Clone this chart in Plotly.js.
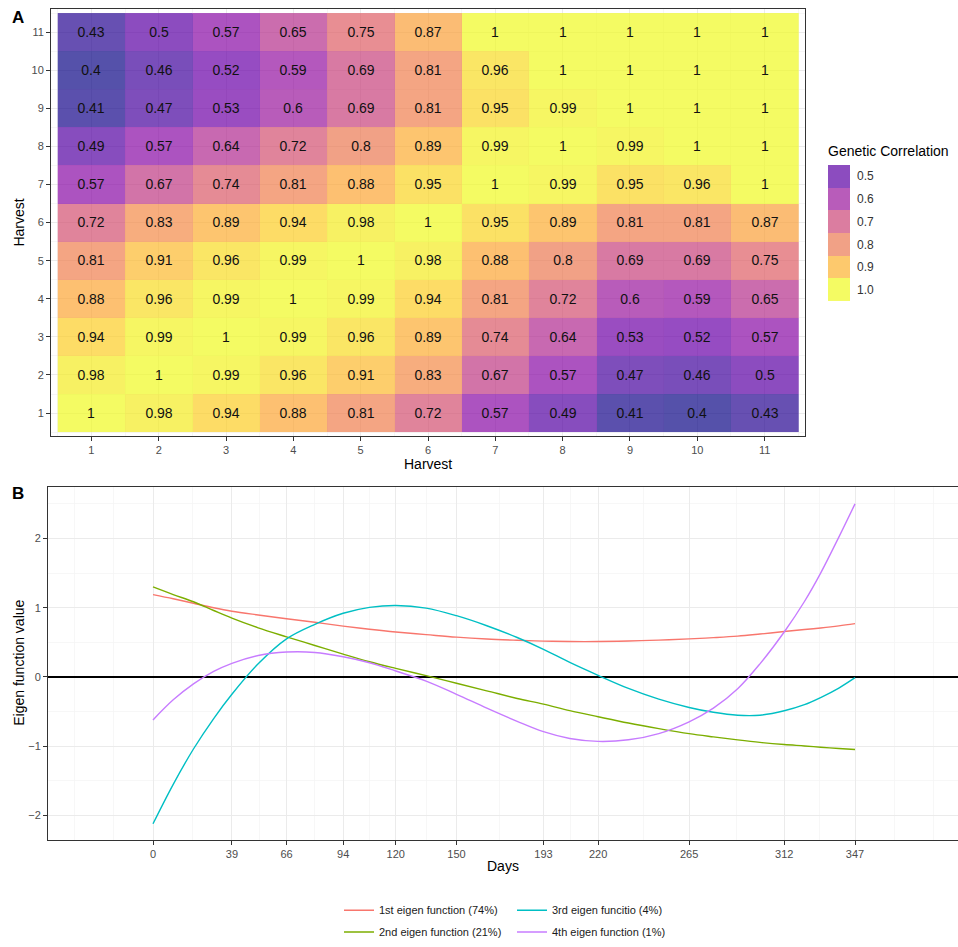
<!DOCTYPE html>
<html>
<head>
<meta charset="utf-8">
<script src="https://cdn.plot.ly/plotly-3.0.1.min.js"></script>
<style>html,body{margin:0;padding:0;background:#fff}#chart{width:958px;height:947px}</style>
</head>
<body>
<div id="chart"></div>
<script>
// ---------- Panel A data: genetic correlations between harvests ----------
const harvests = [1, 2, 3, 4, 5, 6, 7, 8, 9, 10, 11];
const corrH1  = [1, 0.98, 0.94, 0.88, 0.81, 0.72, 0.57, 0.49, 0.41, 0.4, 0.43];
const corrH2  = [0.98, 1, 0.99, 0.96, 0.91, 0.83, 0.67, 0.57, 0.47, 0.46, 0.5];
const corrH3  = [0.94, 0.99, 1, 0.99, 0.96, 0.89, 0.74, 0.64, 0.53, 0.52, 0.57];
const corrH4  = [0.88, 0.96, 0.99, 1, 0.99, 0.94, 0.81, 0.72, 0.6, 0.59, 0.65];
const corrH5  = [0.81, 0.91, 0.96, 0.99, 1, 0.98, 0.88, 0.8, 0.69, 0.69, 0.75];
const corrH6  = [0.72, 0.83, 0.89, 0.94, 0.98, 1, 0.95, 0.89, 0.81, 0.81, 0.87];
const corrH7  = [0.57, 0.67, 0.74, 0.81, 0.88, 0.95, 1, 0.99, 0.95, 0.96, 1];
const corrH8  = [0.49, 0.57, 0.64, 0.72, 0.8, 0.89, 0.99, 1, 0.99, 1, 1];
const corrH9  = [0.41, 0.47, 0.53, 0.6, 0.69, 0.81, 0.95, 0.99, 1, 1, 1];
const corrH10 = [0.4, 0.46, 0.52, 0.59, 0.69, 0.81, 0.96, 1, 1, 1, 1];
const corrH11 = [0.43, 0.5, 0.57, 0.65, 0.75, 0.87, 1, 1, 1, 1, 1];
const legendValues = [0.5, 0.6, 0.7, 0.8, 0.9, 1.0];
const legendLabels = ['0.5', '0.6', '0.7', '0.8', '0.9', '1.0'];

// ---------- Panel B data: eigen functions over days ----------
const days   = [0, 10, 20, 30, 39, 52, 66, 80, 94, 107, 120, 135, 150, 165, 180, 193, 206, 220, 235, 250, 265, 277, 289, 300, 312, 322, 330, 339, 347];
const eigen1 = [1.19, 1.13, 1.065, 1.0, 0.95, 0.895, 0.84, 0.79, 0.735, 0.69, 0.65, 0.612, 0.575, 0.548, 0.53, 0.518, 0.512, 0.512, 0.52, 0.533, 0.55, 0.568, 0.59, 0.62, 0.656, 0.685, 0.708, 0.738, 0.77];
const eigen2 = [1.30, 1.19, 1.086, 0.96, 0.85, 0.71, 0.58, 0.455, 0.33, 0.22, 0.124, 0.019, -0.091, -0.20, -0.31, -0.392, -0.486, -0.574, -0.665, -0.745, -0.818, -0.865, -0.909, -0.945, -0.976, -0.996, -1.014, -1.032, -1.048];
const eigen3 = [-2.12, -1.55, -1.04, -0.60, -0.25, 0.19, 0.55, 0.76, 0.92, 1.005, 1.033, 0.995, 0.885, 0.74, 0.57, 0.40, 0.21, 0.024, -0.165, -0.32, -0.44, -0.51, -0.553, -0.552, -0.488, -0.40, -0.297, -0.16, -0.01];
const eigen4 = [-0.62, -0.33, -0.10, 0.08, 0.197, 0.31, 0.36, 0.354, 0.292, 0.206, 0.086, -0.06, -0.25, -0.45, -0.64, -0.79, -0.888, -0.93, -0.907, -0.817, -0.647, -0.45, -0.17, 0.19, 0.65, 1.09, 1.50, 2.02, 2.50];
const seriesNames = ['1st eigen function (74%)', '2nd eigen function (21%)', '3rd eigen funcitio (4%)', '4th eigen function (1%)'];
const dayTicks = [0, 39, 66, 94, 120, 150, 193, 220, 265, 312, 347];
const dayMinor = [-39, -19.5, 19.5, 52.5, 80, 107, 135, 171.5, 206.5, 242.5, 288.5, 329.5, 366.5, 386];

// ---------- styling ----------
const W = 958, H = 947;
const px = v => v / W;
const py = v => 1 - v / H;
const FONT = 'Liberation Sans, Arial, sans-serif';
const plasma = [
  [0.0, '#0d0887'], [0.1, '#41049d'], [0.2, '#6a00a8'], [0.3, '#8f0da4'],
  [0.4, '#b12a90'], [0.5, '#cc4778'], [0.6, '#e16462'], [0.7, '#f2844b'],
  [0.8, '#fca636'], [0.9, '#fcce25'], [1.0, '#f0f921']
];
const lineColors = ['#F8766D', '#7CAE00', '#00BFC4', '#C77CFF'];

const corrMatrix = [corrH1, corrH2, corrH3, corrH4, corrH5, corrH6, corrH7, corrH8, corrH9, corrH10, corrH11];
const zMin = Math.min(...corrMatrix.flat());
const zMax = Math.max(...corrMatrix.flat());

const traces = [];
traces.push({
  type: 'heatmap', x: harvests, y: harvests, z: corrMatrix,
  colorscale: plasma, zmin: zMin, zmax: zMax, opacity: 0.7, showscale: false,
  text: corrMatrix.map(r => r.map(String)), texttemplate: '%{text}',
  textfont: {family: FONT, size: 14, color: '#111111'},
  hoverinfo: 'skip', xaxis: 'x', yaxis: 'y'
});
traces.push({
  type: 'heatmap', x: [1], y: legendValues, z: legendValues.map(v => [v]),
  colorscale: plasma, zmin: zMin, zmax: zMax, opacity: 0.7, showscale: false,
  hoverinfo: 'skip', xaxis: 'x3', yaxis: 'y3'
});
const eigens = [eigen1, eigen2, eigen3, eigen4];
const legendIds = ['legend', 'legend2', 'legend3', 'legend4'];
eigens.forEach((ys, i) => {
  traces.push({
    type: 'scatter', mode: 'lines', x: days, y: ys, name: seriesNames[i],
    line: {color: lineColors[i], width: 1.4, shape: 'spline', smoothing: 1},
    xaxis: 'x2', yaxis: 'y2', legend: legendIds[i], hoverinfo: 'skip'
  });
});

const tickFont = {family: FONT, size: 11, color: '#4d4d4d'};
const frame = {showline: true, linecolor: '#333333', linewidth: 1, ticks: 'outside', ticklen: 4, tickcolor: '#333333', tickwidth: 1, zeroline: false, automargin: false, fixedrange: true, tickfont: tickFont};

function legendBox(xPx, yPx) {
  return {x: px(xPx), xanchor: 'left', y: py(yPx), yanchor: 'middle', bgcolor: 'rgba(0,0,0,0)', borderwidth: 0,
          font: {family: FONT, size: 11, color: '#1a1a1a'}, itemwidth: 30};
}

const layout = {
  width: W, height: H, margin: {l: 0, r: 0, t: 0, b: 0},
  paper_bgcolor: '#ffffff', plot_bgcolor: '#ffffff', hovermode: false, showlegend: true,
  font: {family: FONT},
  xaxis: Object.assign({}, frame, {
    domain: [px(51), px(805)], anchor: 'y', range: [0.4, 11.6], mirror: true,
    tickmode: 'linear', tick0: 1, dtick: 1, showgrid: true, gridcolor: '#ebebeb', gridwidth: 1,
    minor: {showgrid: true, tick0: 0.5, dtick: 1, gridcolor: '#f2f2f2', gridwidth: 0.7}
  }),
  yaxis: Object.assign({}, frame, {
    domain: [py(438.7), py(9.3)], anchor: 'x', range: [0.4, 11.6], mirror: true,
    tickmode: 'linear', tick0: 1, dtick: 1, showgrid: true, gridcolor: '#ebebeb', gridwidth: 1,
    minor: {showgrid: true, tick0: 0.5, dtick: 1, gridcolor: '#f2f2f2', gridwidth: 0.7}
  }),
  xaxis2: Object.assign({}, frame, {
    domain: [px(48), 1], anchor: 'y2', range: [-51.9, 397.9], mirror: true,
    tickmode: 'array', tickvals: dayTicks, ticktext: dayTicks.map(String),
    showgrid: true, gridcolor: '#ebebeb', gridwidth: 1,
    minor: {tickmode: 'array', tickvals: dayMinor, showgrid: true, gridcolor: '#f3f3f3', gridwidth: 0.7, ticks: ''}
  }),
  yaxis2: Object.assign({}, frame, {
    domain: [py(845), py(490)], anchor: 'x2', range: [-2.349, 2.745], mirror: false,
    tickmode: 'linear', tick0: 0, dtick: 1, showgrid: true, gridcolor: '#ebebeb', gridwidth: 1,
    minor: {tick0: 0.5, dtick: 1, showgrid: true, gridcolor: '#f3f3f3', gridwidth: 0.7},
    zeroline: true, zerolinecolor: '#000000', zerolinewidth: 2
  }),
  xaxis3: {domain: [px(828), px(850)], anchor: 'y3', visible: false, fixedrange: true, range: [0.5, 1.5]},
  yaxis3: {domain: [py(303), py(166)], anchor: 'x3', range: [1.05, 0.45], side: 'right',
    tickmode: 'array', tickvals: legendValues, ticktext: legendLabels, ticks: '', showline: false,
    showgrid: false, zeroline: false, ticklabelstandoff: 6, automargin: false, fixedrange: true,
    tickfont: {family: FONT, size: 12, color: '#333333'}},
  legend: legendBox(339, 916),
  legend2: legendBox(339, 938),
  legend3: legendBox(512, 916),
  legend4: legendBox(512, 938),
  annotations: [
    {text: '<b>A</b>', x: px(10), y: py(18), xref: 'paper', yref: 'paper', xanchor: 'left', yanchor: 'middle', showarrow: false, font: {family: FONT, size: 17, color: '#000'}},
    {text: '<b>B</b>', x: px(10), y: py(497), xref: 'paper', yref: 'paper', xanchor: 'left', yanchor: 'middle', showarrow: false, font: {family: FONT, size: 17, color: '#000'}},
    {text: 'Harvest', x: px(428), y: py(467), xref: 'paper', yref: 'paper', xanchor: 'center', yanchor: 'middle', showarrow: false, font: {family: FONT, size: 14, color: '#000'}},
    {text: 'Harvest', x: px(19), y: py(224), xref: 'paper', yref: 'paper', xanchor: 'center', yanchor: 'middle', textangle: -90, showarrow: false, font: {family: FONT, size: 14, color: '#000'}},
    {text: 'Genetic Correlation', x: px(826), y: py(152), xref: 'paper', yref: 'paper', xanchor: 'left', yanchor: 'middle', showarrow: false, font: {family: FONT, size: 14, color: '#000'}},
    {text: 'Days', x: px(503), y: py(872), xref: 'paper', yref: 'paper', xanchor: 'center', yanchor: 'middle', showarrow: false, font: {family: FONT, size: 14, color: '#000'}},
    {text: 'Eigen function value', x: px(19), y: py(667), xref: 'paper', yref: 'paper', xanchor: 'center', yanchor: 'middle', textangle: -90, showarrow: false, font: {family: FONT, size: 14, color: '#000'}}
  ]
};

Plotly.newPlot('chart', traces, layout, {displayModeBar: false, staticPlot: true});
</script>
</body>
</html>
